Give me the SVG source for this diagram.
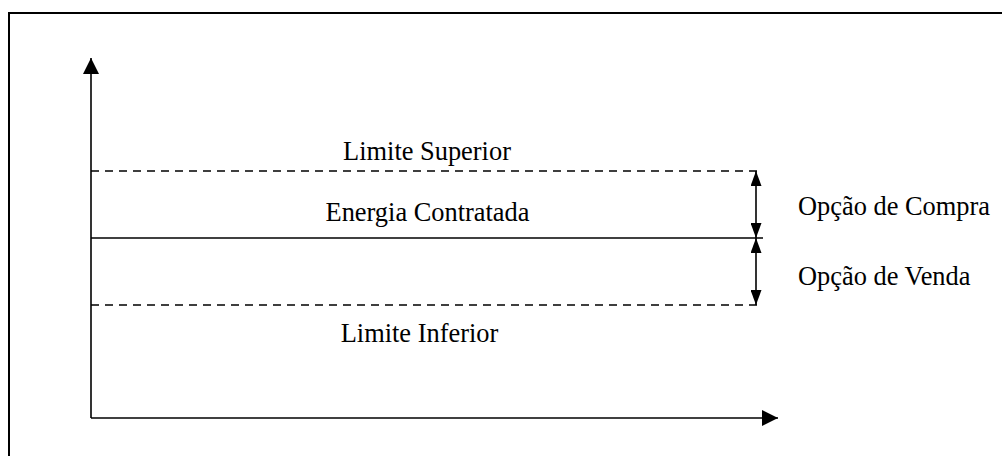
<svg xmlns="http://www.w3.org/2000/svg" width="1002" height="456" viewBox="0 0 1002 456">
<style>
.t{font-family:"Liberation Serif","Times New Roman",serif;font-size:26.4px;fill:#000}
.ax{stroke:#000;stroke-width:1.6;fill:none}
.ln{stroke:#000;stroke-width:1.6;fill:none}
.dash{stroke-dasharray:8 6}
</style>
<defs>
<marker id="big" viewBox="0 0 16 16" refX="16" refY="8" markerWidth="16" markerHeight="16" markerUnits="userSpaceOnUse" orient="auto-start-reverse">
<path d="M0,0 L16,8 L0,16 z" fill="#000"/>
</marker>
<marker id="sm" viewBox="0 0 15 11" refX="15" refY="5.5" markerWidth="15" markerHeight="11" markerUnits="userSpaceOnUse" orient="auto-start-reverse">
<path d="M0,0 L15,5.5 L0,11 z" fill="#000"/>
</marker>
</defs>
<rect x="9" y="13" width="1000" height="450" fill="#fff" stroke="#000" stroke-width="2"/>
<g id="axes">
<line class="ax" x1="91" y1="418" x2="91" y2="58" marker-end="url(#big)"/>
<line class="ax" x1="91" y1="418" x2="778" y2="418" marker-end="url(#big)"/>
</g>
<g id="connectors">
<line class="ln dash" x1="91" y1="171" x2="757" y2="171"/>
<line class="ln" x1="91" y1="238" x2="763" y2="238"/>
<line class="ln dash" x1="91" y1="305" x2="757" y2="305"/>
<line class="ln" x1="756" y1="171" x2="756" y2="238" marker-start="url(#sm)" marker-end="url(#sm)"/>
<line class="ln" x1="756" y1="238" x2="756" y2="305" marker-start="url(#sm)" marker-end="url(#sm)"/>
</g>
<g id="limite-superior"><text class="t" x="427" y="160" text-anchor="middle">Limite Superior</text></g>
<g id="energia-contratada"><text class="t" x="427.5" y="221" text-anchor="middle">Energia Contratada</text></g>
<g id="limite-inferior"><text class="t" x="419.5" y="342" text-anchor="middle">Limite Inferior</text></g>
<g id="opcao-compra"><text class="t" x="798" y="215">Opção de Compra</text></g>
<g id="opcao-venda"><text class="t" x="798" y="285">Opção de Venda</text></g>
</svg>
